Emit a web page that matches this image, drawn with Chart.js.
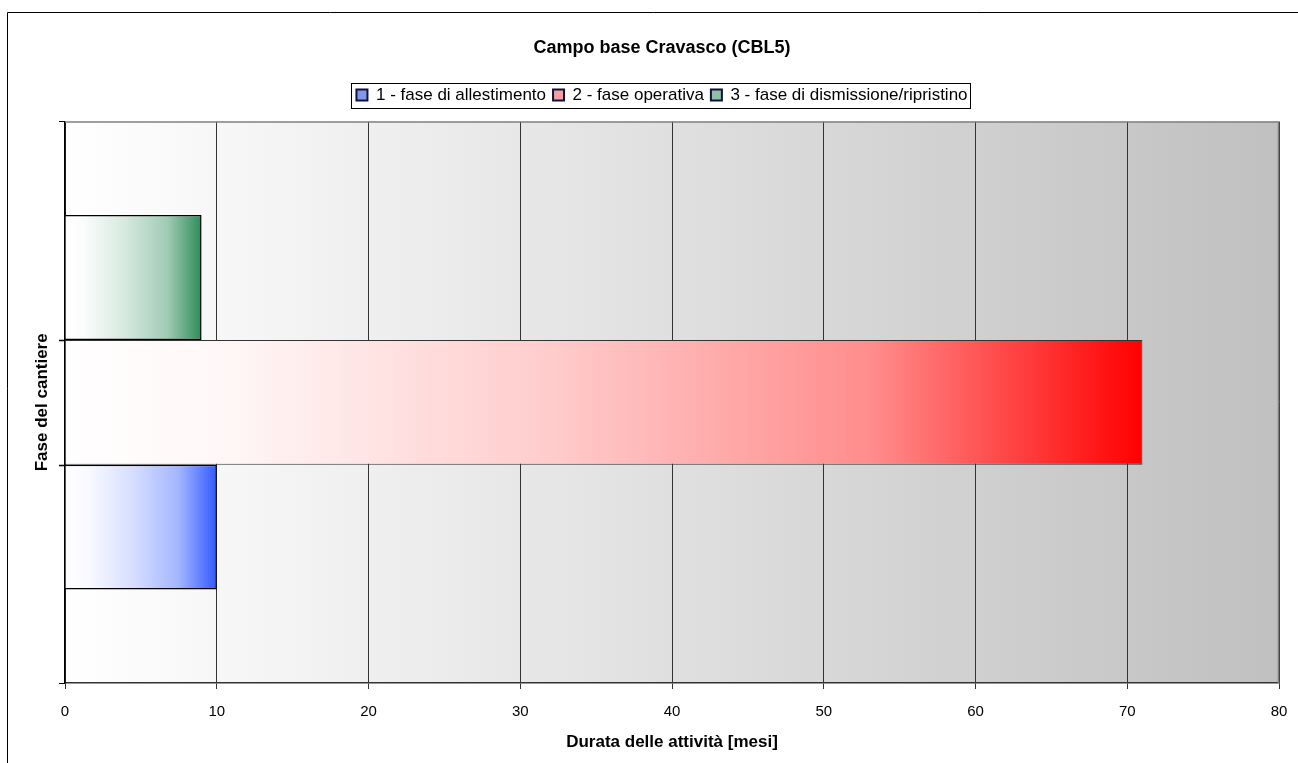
<!DOCTYPE html>
<html>
<head>
<meta charset="utf-8">
<script src="https://cdn.jsdelivr.net/npm/chart.js@4/dist/chart.umd.min.js"></script>
<style>
  html, body { margin: 0; padding: 0; background: #fff; }
  #wrap { position: absolute; left: 0; top: 0; width: 1298px; height: 763px; }
</style>
</head>
<body>
<div id="wrap"><canvas id="chart"></canvas></div>
<script>
//// data
const categories = [""];
const seriesNames = ["1 - fase di allestimento", "2 - fase operativa", "3 - fase di dismissione/ripristino"];
const allestimento = [10];
const operativa = [71];
const dismissione = [9];
const xTicks = [0, 10, 20, 30, 40, 50, 60, 70, 80];

const FONT = "'Liberation Sans', Arial, sans-serif";

// mix white with an rgb colour, f = 0 white, f = 1 full colour
function mix(rgb, f) {
  const c = rgb.map(v => Math.round(255 + (v - 255) * f));
  return `rgb(${c[0]},${c[1]},${c[2]})`;
}

// white -> colour fade along the bar, like the old Excel fill
function fadeFill(rgb) {
  return (ctx) => {
    const chart = ctx.chart;
    if (!chart.chartArea || ctx.raw === undefined) return mix(rgb, 1);
    const x = chart.scales.x;
    const g = chart.ctx.createLinearGradient(x.getPixelForValue(0), 0, x.getPixelForValue(ctx.raw), 0);
    [[0, 0], [0.15, 0.03], [0.45, 0.2], [0.75, 0.45], [1, 1]].forEach(([t, f]) => g.addColorStop(t, mix(rgb, f)));
    return g;
  };
}

//// plugins
const plotBackground = {
  id: "plotBackground",
  beforeDraw(chart) {
    const { ctx, chartArea: a } = chart;
    ctx.save();
    const g = ctx.createLinearGradient(a.left, 0, a.right, 0);
    g.addColorStop(0, "#ffffff");
    g.addColorStop(1, "#c0c0c0");
    ctx.fillStyle = g;
    ctx.fillRect(a.left, a.top, a.right - a.left, a.bottom - a.top);
    // outer frame of the picture
    ctx.strokeStyle = "#000";
    ctx.lineWidth = 1;
    ctx.beginPath();
    ctx.moveTo(7.5, chart.height + 5);
    ctx.lineTo(7.5, 12.5);
    ctx.lineTo(chart.width + 5, 12.5);
    ctx.stroke();
    ctx.restore();
  },
  afterDatasetsDraw(chart) {
    const { ctx, chartArea: a } = chart;
    ctx.save();
    ctx.strokeStyle = "#808080";
    ctx.lineWidth = 1.5;
    ctx.beginPath();
    ctx.moveTo(a.left, a.top + 0.5);
    ctx.lineTo(a.right - 0.5, a.top + 0.5);
    ctx.lineTo(a.right - 0.5, a.bottom);
    ctx.stroke();
    // small marks on the y axis where the bars meet
    ctx.strokeStyle = "#000";
    ctx.lineWidth = 1.5;
    ctx.beginPath();
    [1, 2].forEach(i => {
      const bar = chart.getDatasetMeta(i).data[0];
      const yEdge = Math.round(bar.y - bar.height / 2) + 0.5;
      ctx.moveTo(a.left - 6, yEdge);
      ctx.lineTo(a.left, yEdge);
    });
    ctx.stroke();
    ctx.restore();
  }
};

const legendBox = {
  id: "legendBox",
  afterDraw(chart) {
    const boxes = chart.legend.legendHitBoxes;
    if (!boxes || !boxes.length) return;
    const left = Math.min(...boxes.map(b => b.left)) - 5;
    const right = Math.max(...boxes.map(b => b.left + b.width)) + 3;
    const top = Math.min(...boxes.map(b => b.top)) - 4;
    const bottom = Math.max(...boxes.map(b => b.top + b.height)) + 4;
    const ctx = chart.ctx;
    ctx.save();
    ctx.strokeStyle = "#000";
    ctx.lineWidth = 1;
    ctx.strokeRect(Math.round(left) + 0.5, Math.round(top) + 0.5, Math.round(right - left), Math.round(bottom - top));
    ctx.restore();
  }
};

//// chart
const ctx = document.getElementById("chart").getContext("2d");
new Chart(ctx, {
  type: "bar",
  data: {
    labels: categories,
    // dataset order top -> bottom, as Excel stacks series 1 at the bottom
    datasets: [
      { label: seriesNames[2], data: dismissione, xAxisID: "x", backgroundColor: fadeFill([46, 140, 90]), legendColor: "#8fc0a4", borderColor: "#000", borderWidth: 1.5 },
      { label: seriesNames[1], data: operativa, xAxisID: "x", backgroundColor: fadeFill([255, 0, 0]), legendColor: "#f4a0a0", borderColor: "#333", borderWidth: 1 },
      { label: seriesNames[0], data: allestimento, xAxisID: "x", backgroundColor: fadeFill([51, 90, 255]), legendColor: "#8098e8", borderColor: "#000", borderWidth: 1.5 }
    ]
  },
  options: {
    indexAxis: "y",
    responsive: true,
    maintainAspectRatio: false,
    animation: false,
    devicePixelRatio: 1,
    layout: { padding: { left: 45, right: 19, top: 37, bottom: 10 } },
    datasets: { bar: { categoryPercentage: 0.667, barPercentage: 1 } },
    plugins: {
      title: {
        display: true,
        text: "Campo base Cravasco (CBL5)",
        color: "#000",
        font: { family: FONT, size: 18, weight: "bold" },
        padding: { top: 0, bottom: 21 }
      },
      legend: {
        display: true,
        position: "top",
        reverse: true,
        labels: {
          color: "#000",
          font: { family: FONT, size: 17 },
          boxWidth: 11,
          boxHeight: 11,
          padding: 7,
          generateLabels(chart) {
            return chart.data.datasets.map((ds, i) => ({
              text: ds.label,
              fillStyle: ds.legendColor,
              strokeStyle: "#101040",
              lineWidth: 2,
              datasetIndex: i,
              hidden: false
            }));
          }
        }
      },
      tooltip: { enabled: false }
    },
    scales: {
      x: {
        type: "linear",
        min: 0,
        max: 80,
        afterBuildTicks(scale) { scale.ticks = xTicks.map(v => ({ value: v })); },
        afterFit(scale) { scale.height = 70; scale.paddingLeft = 0; scale.paddingRight = 0; },
        ticks: { color: "#000", font: { family: FONT, size: 15 }, padding: 14 },
        grid: { color: "#333", lineWidth: 1, tickLength: 6, tickColor: "#333", drawOnChartArea: true },
        border: { color: "#333", width: 1.5 },
        title: {
          display: true,
          text: "Durata delle attività [mesi]",
          color: "#000",
          font: { family: FONT, size: 17, weight: "bold" },
          padding: { top: 11, bottom: 0 }
        }
      },
      // empty spacer between legend and plot
      xTop: {
        type: "linear",
        position: "top",
        display: true,
        min: 0,
        max: 80,
        afterFit(scale) { scale.height = 8; scale.paddingLeft = 0; scale.paddingRight = 0; },
        ticks: { display: false },
        grid: { display: false },
        border: { display: false }
      },
      y: {
        type: "category",
        offset: true,
        afterFit(scale) { scale.width = 20; },
        ticks: { display: false },
        grid: { display: true, drawOnChartArea: false, tickLength: 6, tickColor: "#000", offset: true },
        border: { color: "#000", width: 1.5 },
        title: {
          display: true,
          text: "Fase del cantiere",
          color: "#000",
          font: { family: FONT, size: 17, weight: "bold" },
          padding: { top: -13, bottom: 0 }
        }
      }
    }
  },
  plugins: [plotBackground, legendBox]
});
</script>
</body>
</html>
